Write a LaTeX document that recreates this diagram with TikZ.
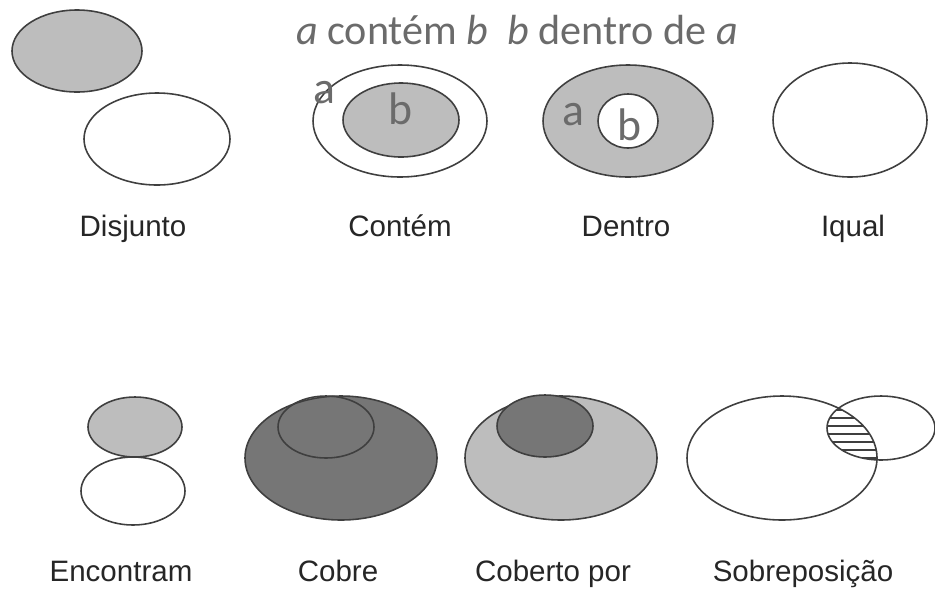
\documentclass[tikz,border=0pt]{standalone}
\usepackage{fontspec}
\setmainfont{Liberation Sans}
\newfontfamily\calib{Carlito}
\definecolor{lightfill}{HTML}{BDBDBD}
\definecolor{darkfill}{HTML}{767676}
\definecolor{rim}{HTML}{3F3F3F}
\definecolor{note}{HTML}{6B6B6B}

\begin{document}
\begin{tikzpicture}[x=0.02cm,y=-0.02cm,
    rel/.style={draw=rim,line width=0.9pt},
    caption/.style={inner sep=0pt,anchor=base,text=black!85,font=\fontsize{16.8}{19}\selectfont},
    tag/.style={inner sep=0pt,text=note,font=\calib\fontsize{26}{30}\selectfont},
    note/.style={inner sep=0pt,anchor=base,text=note,font=\calib\fontsize{24}{28}\selectfont}]
    \useasboundingbox (0,0) rectangle (935,589);
    % top row
    \draw[rel,fill=lightfill] (77,51) ellipse (65 and 41); \draw[rel,fill=white] (157,139) ellipse (73 and 46);
    \draw[rel,fill=white] (400,121) ellipse (87 and 56); \draw[rel,fill=lightfill] (401,120) ellipse (58 and 37);
    \draw[rel,fill=lightfill] (628,121) ellipse (85 and 56); \draw[rel,fill=white] (628,121) ellipse (30 and 27);
    \draw[rel,fill=white] (850,120) ellipse (77 and 57);
    \node[note] (relacoes) at (517,44) {\textit{a} contém \textit{b}\hspace{0.45em}\textit{b} dentro de \textit{a}};
    \node[tag] (ca) at (324,93) {a}; \node[tag] (cb) at (400,109) {b};
    \node[tag] (da) at (573,115) {a}; \node[tag] (db) at (629,125) {b};
    \node[caption] (disjunto) at (133,236) {Disjunto}; \node[caption] (contemlbl) at (400,236) {Contém}; \node[caption] (dentrolbl) at (626,236) {Dentro}; \node[caption] (iqual) at (853,236) {Iqual};
    % bottom row
    \draw[rel,fill=lightfill] (135,427) ellipse (47 and 30); \draw[rel,fill=white] (133,491) ellipse (52 and 34);
    \draw[rel,fill=darkfill] (341,458) ellipse (96 and 62); \draw[rel] (326,427) ellipse (48 and 31);
    \draw[rel,fill=lightfill] (561,458) ellipse (96 and 62); \draw[rel,fill=darkfill] (545,426) ellipse (48 and 31);
    \begin{scope}
      \clip (782,458) ellipse (95 and 62); \clip (881,428) ellipse (54 and 32);
      \foreach \y in {402,410,...,462} \draw[rim,line width=0.8pt] (820,\y) -- (885,\y);
    \end{scope}
    \draw[rel] (782,458) ellipse (95 and 62); \draw[rel] (881,428) ellipse (54 and 32);
    \node[caption] (encontram) at (121,581) {Encontram}; \node[caption] (cobre) at (338,581) {Cobre}; \node[caption] (coberto) at (553,581) {Coberto por}; \node[caption] (sobrepos) at (803,581) {Sobreposição};
\end{tikzpicture}
\end{document}
